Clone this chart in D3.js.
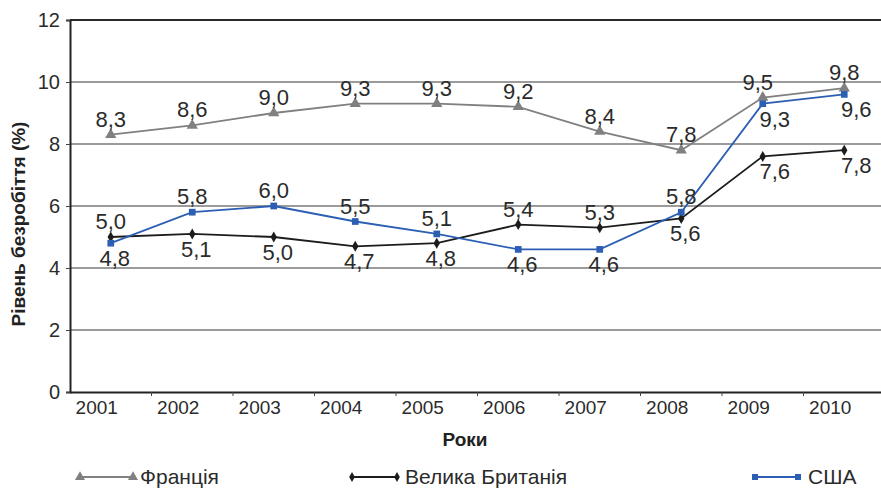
<!DOCTYPE html>
<html><head><meta charset="utf-8">
<script src="https://cdn.jsdelivr.net/npm/d3@7"></script>
<style>body{margin:0;background:#fff}svg{display:block;font-family:"Liberation Sans",Arial,sans-serif}</style>
</head><body><svg id="c" width="881" height="489"></svg>
<script>
const years = ["2001","2002","2003","2004","2005","2006","2007","2008","2009","2010"];
const france = [8.3, 8.6, 9.0, 9.3, 9.3, 9.2, 8.4, 7.8, 9.5, 9.8];
const uk = [5.0, 5.1, 5.0, 4.7, 4.8, 5.4, 5.3, 5.6, 7.6, 7.8];
const usa = [4.8, 5.8, 6.0, 5.5, 5.1, 4.6, 4.6, 5.8, 9.3, 9.6];
const yTicks = [0, 2, 4, 6, 8, 10, 12];
const seriesNames = ["Франція", "Велика Британія", "США"];

(function () {
const svg = d3.select("#c");
const mLeft = 70, mTop = 20, mBottom = 392;
const x = d3.scaleBand().domain(years).range([mLeft, mLeft + 81.5 * years.length]);
const y = d3.scaleLinear().domain([0, 12]).range([mBottom, mTop]);
const txt = "#2b2b2b";
const fmt = v => d3.format(".1f")(v).replace(".", ",");

// gridlines
svg.append("g").selectAll("line").data(yTicks.filter(t => t > 0 && t < 12)).join("line")
  .attr("x1", mLeft).attr("x2", 881).attr("y1", d => y(d)).attr("y2", d => y(d))
  .attr("stroke", "#7a7a7a").attr("stroke-width", 1.3);
// top border
svg.append("line").attr("x1", mLeft).attr("x2", 881).attr("y1", y(12)).attr("y2", y(12))
  .attr("stroke", "#2a2a2a").attr("stroke-width", 1.8);

// y axis
const ya = svg.append("g").attr("transform", `translate(${mLeft},0)`)
  .call(d3.axisLeft(y).tickValues(yTicks).tickSize(4).tickPadding(6));
ya.select(".domain").attr("stroke", "#222").attr("stroke-width", 2);
ya.selectAll(".tick line").attr("stroke", "#444");
ya.selectAll("text").attr("font-size", 20).attr("fill", txt).attr("font-family", "Liberation Sans, Arial, sans-serif");

// x axis
const xa = svg.append("g").attr("transform", `translate(0,${mBottom})`)
  .call(d3.axisBottom(x).tickSize(0).tickPadding(8));
xa.select(".domain").attr("stroke", "#222").attr("stroke-width", 2);
xa.selectAll("text").attr("font-size", 19).attr("fill", txt).attr("dx", -14).attr("dy", "0.75em")
  .attr("font-family", "Liberation Sans, Arial, sans-serif");
svg.append("g").selectAll("line").data(years.slice(1)).join("line")
  .attr("x1", d => x(d)).attr("x2", d => x(d)).attr("y1", mBottom).attr("y2", mBottom + 4)
  .attr("stroke", "#444").attr("stroke-width", 1);

const cx = d => x(d) + x.bandwidth() / 2;

const series = [
  {name: seriesNames[0], vals: france, color: "#808080", marker: d3.symbolTriangle, size: 55},
  {name: seriesNames[1], vals: uk, color: "#1c1c1c", marker: d3.symbolDiamond, size: 35},
  {name: seriesNames[2], vals: usa, color: "#2c5fb3", marker: d3.symbolSquare, size: 45}
];

const line = d3.line().x((d, i) => cx(years[i])).y(d => y(d));
series.forEach(s => {
  svg.append("path").attr("d", line(s.vals)).attr("fill", "none")
    .attr("stroke", s.color).attr("stroke-width", 1.8);
  svg.append("g").selectAll("path").data(s.vals).join("path")
    .attr("d", d3.symbol().type(s.marker).size(s.size))
    .attr("transform", (d, i) => `translate(${cx(years[i])},${y(d)})`)
    .attr("fill", s.color);
});

// value labels
function placeAbove(si, i) {
  if (si === 0) return true;
  if (si === 1) return uk[i] > usa[i];
  return usa[i] > uk[i] && france[i] - usa[i] > 1;
}
series.forEach((s, si) => {
  svg.append("g").selectAll("text").data(s.vals).join("text")
    .attr("x", (d, i) => cx(years[i]) + (placeAbove(si, i) ? (si === 0 && i === 8 ? -5 : 0) : (i >= 8 ? 12 : 4)))
    .attr("y", (d, i) => y(d) + (placeAbove(si, i) ? -8 : 23))
    .attr("text-anchor", "middle").attr("font-size", 22).attr("fill", txt)
    .text(d => fmt(d));
});

// axis titles
svg.append("text").attr("x", 465).attr("y", 446).attr("text-anchor", "middle")
  .attr("font-size", 19).attr("font-weight", "bold").attr("fill", "#222").text("Роки");
svg.append("text").attr("transform", "translate(25,224) rotate(-90)").attr("text-anchor", "middle")
  .attr("font-size", 19).attr("font-weight", "bold").attr("fill", "#222").text("Рівень безробіття (%)");

// legend
const legX = [[80, 133, 140], [352, 397, 405], [755, 798, 808]];
series.forEach((s, si) => {
  const [a, b, t] = legX[si];
  const g = svg.append("g");
  g.append("line").attr("x1", a).attr("x2", b).attr("y1", 477).attr("y2", 477)
    .attr("stroke", s.color).attr("stroke-width", 1.8);
  [a, b].forEach(px => g.append("path").attr("d", d3.symbol().type(s.marker).size(s.size * 0.8))
    .attr("transform", `translate(${px},477)`).attr("fill", s.color));
  g.append("text").attr("x", t).attr("y", 484).attr("font-size", 21).attr("fill", txt).text(s.name);
});
})();
</script></body></html>
